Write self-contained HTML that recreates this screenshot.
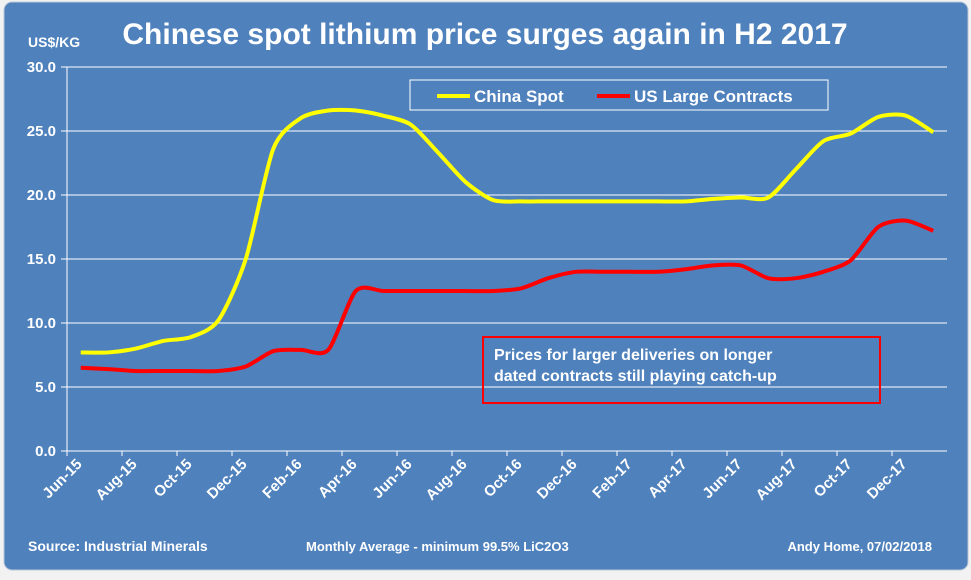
<!DOCTYPE html>
<html><head><meta charset="utf-8"><style>
body{margin:0;width:971px;height:575px;background:#f2f2f2;overflow:hidden;font-family:"Liberation Sans",Arial,sans-serif}
</style></head><body>
<svg id="chart" width="971" height="575" xmlns="http://www.w3.org/2000/svg" font-family="Liberation Sans, Arial, sans-serif">
<rect x="4" y="2" width="964" height="568" rx="8" fill="#4f81bd" stroke="#b8c8d8"/>
<text x="485" y="44" fill="#fff" font-size="30" font-weight="bold" text-anchor="middle">Chinese spot lithium price surges again in H2 2017</text>
<text x="28" y="47" fill="#fff" font-size="14" font-weight="bold">US$/KG</text>
<g id="grid"></g><g id="axes"></g><g id="series"></g>
<g>
<rect x="410" y="80" width="418" height="30" fill="none" stroke="#fff" stroke-width="1"/>
<line x1="437" y1="96" x2="470" y2="96" stroke="#ffff00" stroke-width="4"/>
<text x="474" y="102" fill="#fff" font-size="17" font-weight="bold">China Spot</text>
<line x1="597" y1="96" x2="630" y2="96" stroke="#ff0000" stroke-width="4"/>
<text x="634" y="102" fill="#fff" font-size="17" font-weight="bold">US Large Contracts</text>
</g>
<g>
<rect x="483" y="337" width="397" height="66" fill="none" stroke="#ff0000" stroke-width="2"/>
<text x="494" y="360" fill="#fff" font-size="16" font-weight="bold">Prices for larger deliveries on longer</text>
<text x="494" y="381" fill="#fff" font-size="16" font-weight="bold">dated contracts still playing catch-up</text>
</g>
<text x="28" y="551" fill="#fff" font-size="14" font-weight="bold">Source: Industrial Minerals</text>
<text x="306" y="551" fill="#fff" font-size="13" font-weight="bold">Monthly Average - minimum 99.5% LiC2O3</text>
<text x="932" y="551" fill="#fff" font-size="13" font-weight="bold" text-anchor="end">Andy Home, 07/02/2018</text>
</svg>
<script>
const categories=["Jun-15","Jul-15","Aug-15","Sep-15","Oct-15","Nov-15","Dec-15","Jan-16","Feb-16","Mar-16","Apr-16","May-16","Jun-16","Jul-16","Aug-16","Sep-16","Oct-16","Nov-16","Dec-16","Jan-17","Feb-17","Mar-17","Apr-17","May-17","Jun-17","Jul-17","Aug-17","Sep-17","Oct-17","Nov-17","Dec-17","Jan-18"];
const chinaSpot=[7.7,7.7,8.0,8.6,8.9,10.2,15.0,23.6,26.0,26.6,26.6,26.2,25.5,23.3,21.0,19.6,19.5,19.5,19.5,19.5,19.5,19.5,19.5,19.7,19.8,19.8,22.0,24.2,24.8,26.1,26.2,24.9];
const usContracts=[6.5,6.4,6.25,6.25,6.25,6.25,6.6,7.8,7.9,7.9,12.5,12.5,12.5,12.5,12.5,12.5,12.7,13.5,14,14,14,14,14.2,14.5,14.5,13.5,13.5,14,14.9,17.5,18,17.2];
const yTicks=[0,5,10,15,20,25,30];
const NS="http://www.w3.org/2000/svg";
const L=67,R=947,T=67,B=451,yMax=30;
const step=(R-L)/categories.length;
const x=i=>L+step*(i+0.5);
const y=v=>B-(v/yMax)*(B-T);
function mk(tag,attrs,parent){const e=document.createElementNS(NS,tag);for(const k in attrs)e.setAttribute(k,attrs[k]);document.getElementById(parent).appendChild(e);return e;}
yTicks.forEach(t=>{
 const g=mk('line',{x1:L-6,x2:R,y1:y(t),y2:y(t),stroke:'#fff','stroke-width':1},'grid');
 
 
 const tx=mk('text',{x:L-11,y:y(t)+5,fill:'#fff','font-size':15,'font-weight':'bold','text-anchor':'end'},'axes');
 tx.textContent=t.toFixed(1);
 
 
});
const ya=mk('line',{x1:L,x2:L,y1:T,y2:B,stroke:'#fff','stroke-width':1},'axes');


categories.forEach((c,i)=>{
 if(i%2)return;
 const tk=mk('line',{x1:L+step*i,x2:L+step*i,y1:B,y2:B+5,stroke:'#fff'},'axes');
 
 
 const tx=mk('text',{x:x(i)+2,y:B+14,fill:'#fff','font-size':15,'font-weight':'bold','text-anchor':'end',transform:`rotate(-45 ${x(i)+2} ${B+14})`},'axes');
 tx.textContent=c;
 
 
});
function smooth(vals){
 const p=vals.map((v,i)=>[x(i),y(v)]);
 let d=`M${p[0][0]},${p[0][1]}`;
 for(let i=0;i<p.length-1;i++){
  const p0=p[Math.max(0,i-1)],p1=p[i],p2=p[i+1],p3=p[Math.min(p.length-1,i+2)];
  const t=0.13;
  d+=` C${p1[0]+(p2[0]-p0[0])*t},${p1[1]+(p2[1]-p0[1])*t} ${p2[0]-(p3[0]-p1[0])*t},${p2[1]-(p3[1]-p1[1])*t} ${p2[0]},${p2[1]}`;
 }
 return d;
}
const s1=mk('path',{d:smooth(usContracts),fill:'none',stroke:'#ff0000','stroke-width':4,'stroke-linejoin':'round'},'series');


const s2=mk('path',{d:smooth(chinaSpot),fill:'none',stroke:'#ffff00','stroke-width':4,'stroke-linejoin':'round'},'series');


</script>
</body></html>
